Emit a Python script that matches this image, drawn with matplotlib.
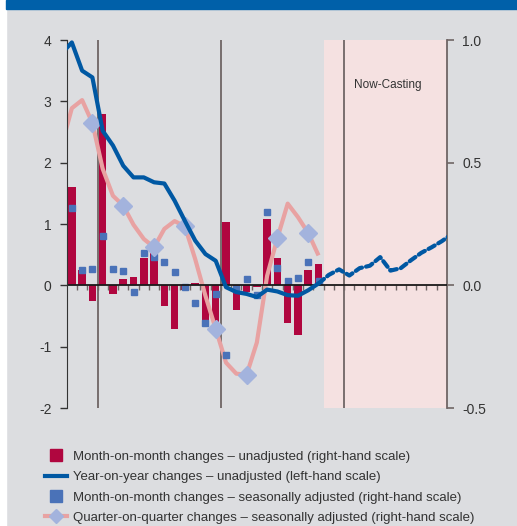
import numpy as np
import matplotlib.pyplot as plt
from matplotlib.lines import Line2D
from matplotlib.patches import Rectangle

plt.rcParams['axes.unicode_minus'] = False

# months counted from Oct 2012 (0) ; values plotted at mid-month
mom_unadj = [0.40, 0.0625, -0.0625, 0.70, -0.035, 0.025, 0.035, 0.1125, 0.145,
             -0.0825, -0.1775, -0.02, 0.01, -0.16, -0.17, 0.26, -0.10, -0.0275,
             -0.005, 0.27, 0.11, -0.155, -0.2025, 0.0625, 0.085]
mom_sa = [0.315, 0.061, 0.065, 0.2025, 0.0675, 0.0575, -0.0275, 0.13, 0.115,
          0.094, 0.055, -0.005, -0.0725, -0.155, -0.035, -0.2825, -0.016,
          0.0275, -0.0375, 0.2975, 0.07, 0.016, 0.03, 0.094, 0.0175]
# from Sep 2012 (-1)
yoy = [3.78, 3.96, 3.50, 3.39, 2.52, 2.28, 1.95, 1.76, 1.76, 1.68, 1.66, 1.38,
       1.05, 0.73, 0.51, 0.40, -0.03, -0.11, -0.14, -0.19, -0.07, -0.10, -0.16,
       -0.17, -0.08, 0.03]
# now-cast, from Oct 2014 (24) to Nov 2015 (37)
yoy_nowcast = [0.03, 0.17, 0.26, 0.16, 0.28, 0.32, 0.46, 0.24, 0.28, 0.41,
               0.53, 0.62, 0.72, 0.84]
qoq = [0.567, 0.722, 0.755, 0.662, 0.475, 0.365, 0.325, 0.247, 0.189, 0.155,
       0.23, 0.262, 0.24, 0.107, -0.043, -0.178, -0.315, -0.36, -0.365,
       -0.233, 0.039, 0.193, 0.333, 0.278, 0.213, 0.122]

years = ['2012', '2013', '2014', '2015']
year_pos = [1.5, 9, 21, 32]
year_lines = [3, 15, 27]
n_months = 37
nowcast_start = 25

bg = '#dcdde0'
crimson = '#b0063f'
dblue = '#0058a3'
sqblue = '#4a72b8'
pink = '#e8a2a2'
diam = '#a3b3dd'
shade = '#f5e1e1'
grid_c = '#6f6565'
txt = '#333333'
fam = ['Liberation Sans', 'DejaVu Sans']

fig = plt.figure(figsize=(5.17, 5.26), dpi=100, facecolor=bg)
fig.patches.append(Rectangle((0, 0), 6 / 517, 1, transform=fig.transFigure,
                             color='white', zorder=0))
fig.patches.append(Rectangle((6 / 517, 1 - 9 / 526), 1, 9 / 526,
                             transform=fig.transFigure, color='#0060a9', zorder=0))

ax2 = fig.add_axes([66.7 / 517, 1 - 408 / 526, (447 - 66.7) / 517, 368 / 526])
ax = ax2.twinx()
# left scale axis drawn on top
ax.yaxis.tick_left()
ax2.yaxis.tick_right()
ax.set_zorder(ax2.get_zorder() + 1)
ax.patch.set_visible(False)
ax2.patch.set_visible(False)

m = np.arange(len(mom_unadj)) + 0.5
ax2.axvspan(nowcast_start, n_months, color=shade, zorder=0, lw=0)
for yl in year_lines:
    ax2.axvline(yl, color=grid_c, lw=1.3, zorder=1)
ax2.bar(m, mom_unadj, width=0.73, color=crimson, zorder=2)
xq = np.arange(len(qoq)) - 0.5
ax2.plot(xq, qoq, color=pink, lw=3, zorder=3, solid_capstyle='butt')
ax2.plot(xq, qoq, ls='none', marker='D', ms=9, color=diam, zorder=5,
         markevery=slice(3, None, 3))
ax2.plot(m, mom_sa, ls='none', marker='s', ms=5, color=sqblue, zorder=4)

xy = np.arange(len(yoy)) - 0.5
ax.plot(xy, yoy, color=dblue, lw=3, zorder=3, solid_capstyle='round')
xn = np.arange(len(yoy_nowcast)) + 24.5
ax.plot(xn, yoy_nowcast, color=dblue, lw=3, zorder=3, dashes=(1.7, 1.0),
        dash_capstyle='round')
ax.axhline(0, color='#1a1a1a', lw=1.3, zorder=2)
ax.vlines(np.arange(1, n_months), -0.08, 0, color=grid_c, lw=1, zorder=1)

ax.set_xlim(0, n_months)
ax.set_ylim(-2, 4)
ax2.set_ylim(-0.5, 1.0)
ax.set_yticks(range(-2, 5))
ax2.set_yticks([-0.5, 0.0, 0.5, 1.0])
ax2.set_yticklabels(['-0.5', '0.0', '0.5', '1.0'])
ax.set_xticks(year_pos)
ax.set_xticklabels(years)
ax2.set_xticks([])

for a in (ax, ax2):
    for s in ('top', 'bottom'):
        a.spines[s].set_visible(False)
ax.spines['right'].set_visible(False)
ax2.spines['left'].set_visible(False)
ax.spines['left'].set_color('#333333')
ax2.spines['right'].set_color(grid_c)
ax2.spines['right'].set_linewidth(1.3)

ax.tick_params(axis='y', direction='out', length=5, width=1, color='#333333',
               labelsize=10, labelcolor=txt, pad=6)
ax2.tick_params(axis='y', direction='out', length=5, width=1.2, color=grid_c,
                labelsize=10, labelcolor=txt, pad=6)
ax.tick_params(axis='x', length=0, pad=6, labelcolor=txt, labelsize=9)
for lab in ax.get_xticklabels() + ax.get_yticklabels() + ax2.get_yticklabels():
    lab.set_family(fam)

ax2.text(31.25, 0.815, 'Now-Casting', ha='center', va='center', fontsize=8.5,
         color=txt, family=fam)

handles = [
    Line2D([], [], ls='none', marker='s', ms=8, color=crimson),
    Line2D([], [], color=dblue, lw=3),
    Line2D([], [], ls='none', marker='s', ms=8, color=sqblue),
    Line2D([], [], color=pink, lw=3, marker='D', ms=7, markerfacecolor=diam,
           markeredgecolor=diam),
]
labels = ['Month-on-month changes \u2013 unadjusted (right-hand scale)',
          'Year-on-year changes \u2013 unadjusted (left-hand scale)',
          'Month-on-month changes \u2013 seasonally adjusted (right-hand scale)',
          'Quarter-on-quarter changes \u2013 seasonally adjusted (right-hand scale)']
fig.legend(handles, labels, loc='upper left',
           bbox_to_anchor=(45 / 517, 1 - 450.5 / 526), frameon=False,
           borderpad=0, borderaxespad=0, handlelength=1.65, handletextpad=0.5,
           labelspacing=0.62, prop={'family': fam, 'size': 9.5}, labelcolor=txt)

fig.savefig('out.png', dpi=100, facecolor=bg)
